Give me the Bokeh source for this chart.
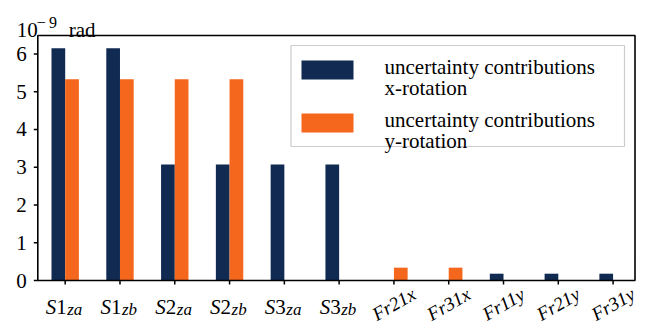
import numpy as np
from bokeh.plotting import figure
from bokeh.models import Range1d, ColumnDataSource
from bokeh.core.properties import value
from bokeh.transform import dodge
from bokeh.embed import file_html
from bokeh.resources import INLINE

# ---- data ----
categories = ["S1_za", "S1_zb", "S2_za", "S2_zb", "S3_za", "S3_zb",
              "Fr21x", "Fr31x", "Fr11y", "Fr21y", "Fr31y"]
label_letter = ["S", "S", "S", "S", "S", "S", "", "", "", "", ""]
label_digit = ["1", "1", "2", "2", "3", "3", "", "", "", "", ""]
label_sub = ["za", "zb", "za", "zb", "za", "zb", "", "", "", "", ""]
label_rot = ["", "", "", "", "", "", "Fr21x", "Fr31x", "Fr11y", "Fr21y", "Fr31y"]
x_rotation = [6.15, 6.15, 3.07, 3.07, 3.07, 3.07, 0.0, 0.0, 0.18, 0.18, 0.18]
y_rotation = [5.33, 5.33, 5.33, 5.33, 0.0, 0.0, 0.34, 0.34, 0.0, 0.0, 0.0]
y_ticks = [0, 1, 2, 3, 4, 5, 6]
series_line1 = ["uncertainty contributions", "uncertainty contributions"]
series_line2 = ["x-rotation", "y-rotation"]
unit_base, unit_exp, unit_name = "10", "\u2212\u20099", "rad"

NAVY = "#102a52"
ORANGE = "#f4671c"
COLORS = [NAVY, ORANGE]
FONT = value("Liberation Serif")
FS = "21px"

# ---- layout (pixels) ----
W, H = 646, 324
L, R, T, B = 37.3, 634.5, 35.0, 280.0      # axes box on the canvas
xa, xb = -0.5, 10.4                          # axes x limits
ya, yb = 0.0, 6.49                           # axes y limits
sx = (R - L) / (xb - xa)
sy = (B - T) / (yb - ya)


def px_x(px):
    return xa + (px - L) / sx


def px_y(py):
    return yb - (py - T) / sy


p = figure(width=W, height=H, output_backend="svg", toolbar_location=None,
           x_axis_type=None, y_axis_type=None,
           x_range=Range1d(xa - L / sx, xb + (W - R) / sx),
           y_range=Range1d(ya - (H - B) / sy, yb + T / sy),
           min_border=0)
p.outline_line_color = None
p.background_fill_color = "white"
p.border_fill_color = "white"
p.grid.visible = False

idx = list(range(len(categories)))
src = ColumnDataSource(dict(x=idx, xr=x_rotation, yr=y_rotation))

r1 = p.vbar(x=dodge("x", -0.125, range=p.x_range), top="xr", bottom=0, width=0.25,
            source=src, fill_color=NAVY, line_color=None)
r2 = p.vbar(x=dodge("x", 0.125, range=p.x_range), top="yr", bottom=0, width=0.25,
            source=src, fill_color=ORANGE, line_color=None)

# axes box (spines)
p.quad(left=[xa], right=[xb], bottom=[ya], top=[yb], fill_color=None,
       line_color="black", line_width=1.6)

# ticks
tick_px = 4
p.segment(x0=[xa - tick_px / sx] * len(y_ticks), x1=[xa] * len(y_ticks),
          y0=y_ticks, y1=y_ticks, line_color="black", line_width=1.5)
p.segment(x0=idx, x1=idx, y0=[ya - tick_px / sy] * len(idx), y1=[ya] * len(idx),
          line_color="black", line_width=1.5)

# y tick labels
p.text(x=[xa] * len(y_ticks), y=y_ticks, text=[str(t) for t in y_ticks],
       x_offset=-11, text_align="right", text_baseline="middle",
       text_font=FONT, text_font_size=FS, text_color="black")

# x category labels
s_idx = [i for i in idx if label_letter[i]]
r_idx = [i for i in idx if label_rot[i]]
p.text(x=s_idx, y=[ya] * len(s_idx), text=[label_letter[i] for i in s_idx],
       x_offset=-9, y_offset=26, text_align="right", text_baseline="alphabetic",
       text_font=FONT, text_font_size=FS, text_font_style="italic", text_color="black")
p.text(x=s_idx, y=[ya] * len(s_idx), text=[label_digit[i] for i in s_idx],
       x_offset=-9, y_offset=26, text_align="left", text_baseline="alphabetic",
       text_font=FONT, text_font_size=FS, text_color="black")
p.text(x=s_idx, y=[ya] * len(s_idx), text=[label_sub[i] for i in s_idx],
       x_offset=2, y_offset=29, text_align="left", text_baseline="alphabetic",
       text_font=FONT, text_font_size="17px", text_font_style="italic", text_color="black")
p.text(x=r_idx, y=[ya] * len(r_idx), text=[label_rot[i] for i in r_idx],
       y_offset=23.5, angle=30, angle_units="deg", text_align="center",
       text_baseline="middle", text_font=FONT, text_font_size="19px",
       text_font_style="italic", text_color="black")

# unit label above the y axis
p.text(x=[xa], y=[yb], text=[unit_base], x_offset=-21, y_offset=-6,
       text_baseline="alphabetic", text_font=FONT, text_font_size=FS, text_color="black")
p.text(x=[xa], y=[yb], text=[unit_exp], x_offset=-1, y_offset=-13,
       text_baseline="alphabetic", text_font=FONT, text_font_size="16px", text_color="black")
p.text(x=[xa], y=[yb], text=[unit_name], x_offset=31, y_offset=-6,
       text_baseline="alphabetic", text_font=FONT, text_font_size=FS, text_color="black")

# legend (drawn inside the canvas)
p.quad(left=[px_x(290.5)], right=[px_x(624)], top=[px_y(45)], bottom=[px_y(146)],
       fill_color="white", line_color="#cccccc", line_width=1.2)
patch_top = [60, 113]
p.quad(left=[px_x(301)] * 2, right=[px_x(353)] * 2,
       top=[px_y(t) for t in patch_top], bottom=[px_y(t + 19) for t in patch_top],
       fill_color=COLORS, line_color=None)
base1 = [66.5, 119]
p.text(x=[px_x(384)] * 2, y=[px_y(b) for b in base1], text=series_line1,
       text_baseline="alphabetic", text_font=FONT, text_font_size=FS, text_color="black")
p.text(x=[px_x(384)] * 2, y=[px_y(b + 21) for b in base1], text=series_line2,
       text_baseline="alphabetic", text_font=FONT, text_font_size=FS, text_color="black")

open("out.html", "w").write(file_html(p, INLINE))
